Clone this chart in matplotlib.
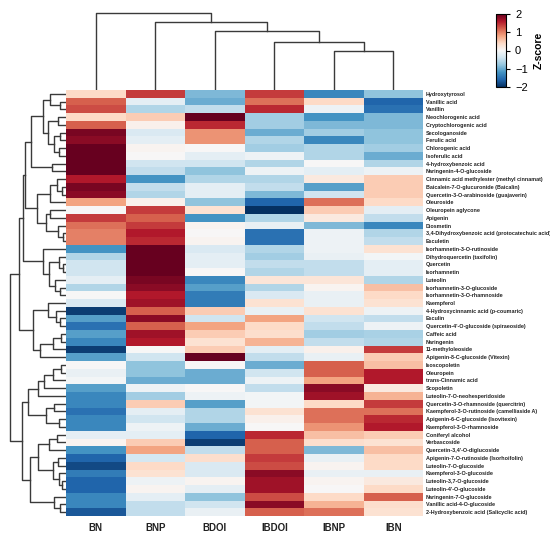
import numpy as np
import matplotlib
matplotlib.use("Agg")
import matplotlib.pyplot as plt

plt.rcParams["font.family"] = ["Liberation Sans", "DejaVu Sans"]

samples = ["BN", "BNP", "BDOI", "IBDOI", "IBNP", "IBN"]

compounds = [
    "Hydroxytyrosol", "Vanillic acid", "Vanillin", "Neochlorogenic acid",
    "Cryptochlorogenic acid", "Secologanoside", "Ferulic acid", "Chlorogenic acid",
    "Isoferulic acid", "4-hydroxybenzoic acid", "Naringenin-4-O-glucoside",
    "Cinnamic acid methylester (methyl cinnamat)", "Baicalein-7-O-glucuronide (Baicalin)",
    "Quercetin-3-O-arabinoside (guajaverin)", "Oleuroside", "Oleuropein aglycone",
    "Apigenin", "Diosmetin", "3,4-Dihydroxybenzoic acid (protocatechuic acid)",
    "Esculetin", "Isorhamnetin-3-O-rutinoside", "Dihydroquercetin (taxifolin)",
    "Quercetin", "Isorhamnetin", "Luteolin", "Isorhamnetin-3-O-glucoside",
    "Isorhamnetin-3-O-rhamnoside", "Kaempferol", "4-Hydroxycinnamic acid (p-coumaric)",
    "Esculin", "Quercetin-4'-O-glucoside (spiraeoside)", "Caffeic acid", "Naringenin",
    "11-methyloleoside", "Apigenin-8-C-glucoside (Vitexin)", "Isoscopoletin",
    "Oleuropein", "trans-Cinnamic acid", "Scopoletin", "Luteolin-7-O-neohesperidoside",
    "Quercetin-3-O-rhamnoside (quercitrin)", "Kaempferol-3-O-rutinoside (camelliaside A)",
    "Apigenin-6-C-glucoside (Isovitexin)", "Kaempferol-3-O-rhamnoside", "Coniferyl alcohol",
    "Verbascoside", "Quercetin-3,4'-O-diglucoside", "Apigenin-7-O-rutinoside (Isorhoifolin)",
    "Luteolin-7-O-glucoside", "Kaempferol-3-O-glucoside", "Luteolin-3,7-O-glucoside",
    "Luteolin-4'-O-glucoside", "Naringenin-7-O-glucoside", "Vanillic acid-4-O-glucoside",
    "2-Hydroxybenzoic acid (Salicyclic acid)",
]

# z-scores per sample, one value per compound (top to bottom)
bn = [0.4, 1.2, 1.3, 0.4, 1.2, 1.9, 1.8, 2.0, 2.0, 2.0, 2.0, 1.6, 1.9, 1.8, 0.8, 0.0,
      1.4, 1.1, 1.0, 1.0, -1.2, -0.6, -0.4, -0.4, -0.2, -0.6, 0.0, -0.3, -1.9, -1.1,
      -1.5, -1.1, -1.3, -1.9, -1.1, 0.0, -0.15, -0.05, -1.1, -1.3, -1.3, -1.5, -1.3,
      -1.3, -0.2, 0.05, -1.2, -1.6, -1.8, -1.4, -1.6, -1.6, -1.3, -1.3, -1.7]
bnp = [1.4, -0.2, -0.6, 0.5, 0.1, -0.3, -0.2, 0.05, 0.0, -0.4, -0.5, -1.2, -0.5, -0.6,
       0.1, 1.4, 1.2, 1.4, 1.6, 1.5, 2.0, 2.0, 2.0, 2.0, 1.9, 1.8, 1.6, 1.7, 1.2, 1.8,
       1.2, 1.7, 1.6, 0.0, -0.4, -0.8, -0.8, -1.0, -0.1, -0.7, 0.5, -0.2, -0.4, -0.1,
       -0.2, 0.5, 0.8, -0.35, 0.4, 0.3, -0.1, 0.05, -0.2, -0.5, -0.5]
bdoi = [-0.9, -1.0, -0.5, 2.0, 1.5, 0.9, 0.9, 0.0, -0.2, -0.4, -0.8, -0.6, -0.2, -0.2,
        -0.8, 0.3, -1.2, 0.05, 0.0, 0.05, -0.3, -0.2, -0.2, 0.0, -1.3, -1.1, -1.4, -1.4,
        0.5, -0.4, 0.8, 0.5, 0.3, 0.5, 2.0, 0.0, -1.0, -1.0, 0.0, -0.1, -1.1, -0.6, -0.6,
        -1.0, -1.6, -1.9, -0.5, 0.35, -0.3, -0.3, 0.05, -0.2, -0.8, -0.4, -0.15]
ibdoi = [1.4, 1.1, 1.5, -0.7, -0.7, -1.0, -0.6, -0.7, -0.1, -0.6, -0.1, -0.6, -0.5, -0.9,
         -1.6, -2.0, -0.6, -0.15, -1.5, -1.5, -0.6, -0.7, -0.5, -0.6, 0.25, -0.6, -0.3,
         0.3, -0.15, 0.8, 0.4, 0.35, 0.7, -0.2, -0.5, -1.0, -0.4, -0.1, -0.5, -0.05,
         -0.05, 0.3, 0.1, 0.0, 1.5, 1.2, 1.2, 1.4, 1.3, 1.8, 1.7, 1.7, 1.3, 1.8, 1.2]
ibnp = [-1.3, 0.4, -0.1, -1.2, -0.9, -0.7, -1.3, -0.6, -0.6, 0.0, -0.2, 0.2, -1.1, -0.4,
        1.1, 0.5, 0.2, -0.9, -0.1, -0.1, -0.1, -0.15, -0.5, -0.5, 0.25, 0.05, -0.15,
        -0.15, 0.3, -0.4, -0.5, -0.7, -0.5, 0.1, -0.15, 1.2, 1.2, 0.8, 1.8, 1.7, 0.4,
        1.1, 1.1, 0.9, 0.6, 0.35, -0.9, -0.15, 0.05, -0.15, 0.05, 0.0, 0.4, 0.7, 1.1]
ibn = [-0.8, -1.6, -1.5, -0.9, -0.9, -0.8, -0.8, -0.7, -1.0, -0.6, -0.1, 0.5, 0.5, 0.5,
       0.4, -0.2, -0.5, -1.3, -0.6, -0.5, 0.3, -0.05, -0.2, -0.2, -0.6, 0.6, 0.4, 0.3,
       -0.1, -0.5, -0.1, -0.65, -0.6, 1.4, 0.5, 0.6, 1.6, 1.6, 0.2, 0.7, 1.4, 1.1, 1.5,
       1.6, 0.5, 0.3, 0.6, 0.4, 0.4, -0.15, 0.2, 0.4, 1.2, 0.35, 0.3]

# dendrograms as (left, right, merge height); ints are leaf indices
row_tree = (
    (
        (
            (
                (((0, (1, 2, 6), 16), ((3, 4, 8), ((5, 6, 6), (7, 8, 7), 12), 18), 23),
                 (9, 10, 14), 35),
                (((11, (12, 13, 4), 9), 14, 16), ((15, 16, 16), (17, (18, 19, 3), 8), 20), 29),
                41,
            ),
            (20, ((21, (22, 23, 3), 7), (24, (25, 26, 6), 11), 17), 23),
            43,
        ),
        ((27, (28, (29, 30, 6), 10), 18), ((((31, 32, 5), 33, 13), 34, 26)), 33),
        47,
    ),
    (
        (((((35, 36, 5), 37, 13), 38, 22), 39, 28), ((40, 41, 12), (42, 43, 7), 20), 38),
        ((((44, 45, 9), 46, 17), ((47, 48, 8), (49, (50, 51, 4), 7), 13), 28),
         (52, (53, 54, 6), 12), 36),
        44,
    ),
    56,
)
col_tree = (0, (1, (2, (3, (4, 5, 39), 48), 59), 68), 77)


def draw_tree(ax, node, side):
    if isinstance(node, int):
        return node + 0.5, 0
    left, right, h = node
    p1, h1 = draw_tree(ax, left, side)
    p2, h2 = draw_tree(ax, right, side)
    if side == "top":
        ax.plot([p1, p1, p2, p2], [h1, h, h, h2], color="#3a3a3a", lw=1.0)
    else:
        ax.plot([h1, h, h, h2], [p1, p1, p2, p2], color="#3a3a3a", lw=1.0)
    return (p1 + p2) / 2, h


data = np.array([bn, bnp, bdoi, ibdoi, ibnp, ibn]).T
nr, nc = data.shape

fig = plt.figure(figsize=(5.5, 5.37), dpi=100)
W, H = 550, 537


def box(x0, y0, x1, y1):
    return [x0 / W, 1 - y1 / H, (x1 - x0) / W, (y1 - y0) / H]


ax = fig.add_axes(box(66, 90, 423, 516))
mesh = ax.pcolormesh(data, cmap="RdBu_r", vmin=-2, vmax=2)
ax.set_xlim(0, nc)
ax.set_ylim(nr, 0)
ax.set_xticks(np.arange(nc) + 0.5)
ax.set_xticklabels(samples, fontsize=7, fontweight="bold", color="#222222")
ax.set_yticks(np.arange(nr) + 0.5)
ax.set_yticklabels(compounds, fontsize=3.9, fontweight="bold", color="#222222")
ax.yaxis.tick_right()
ax.tick_params(length=0, pad=2)
ax.tick_params(axis="x", pad=5)
for s in ax.spines.values():
    s.set_visible(False)

axr = fig.add_axes(box(8, 90, 66, 516))
draw_tree(axr, row_tree, "left")
axr.set_xlim(58, 0)
axr.set_ylim(nr, 0)
axr.axis("off")

axc = fig.add_axes(box(66, 10, 423, 90))
draw_tree(axc, col_tree, "top")
axc.set_xlim(0, nc)
axc.set_ylim(0, 80)
axc.axis("off")

cax = fig.add_axes(box(496, 14, 506, 87))
cb = fig.colorbar(mesh, cax=cax, ticks=[-2, -1, 0, 1, 2])
cb.outline.set_linewidth(0.8)
cb.ax.tick_params(labelsize=8, length=3, width=0.8)
cb.set_label("Z-score", fontsize=7.5, fontweight="bold")

fig.savefig("out.png", dpi=100, facecolor="white")
